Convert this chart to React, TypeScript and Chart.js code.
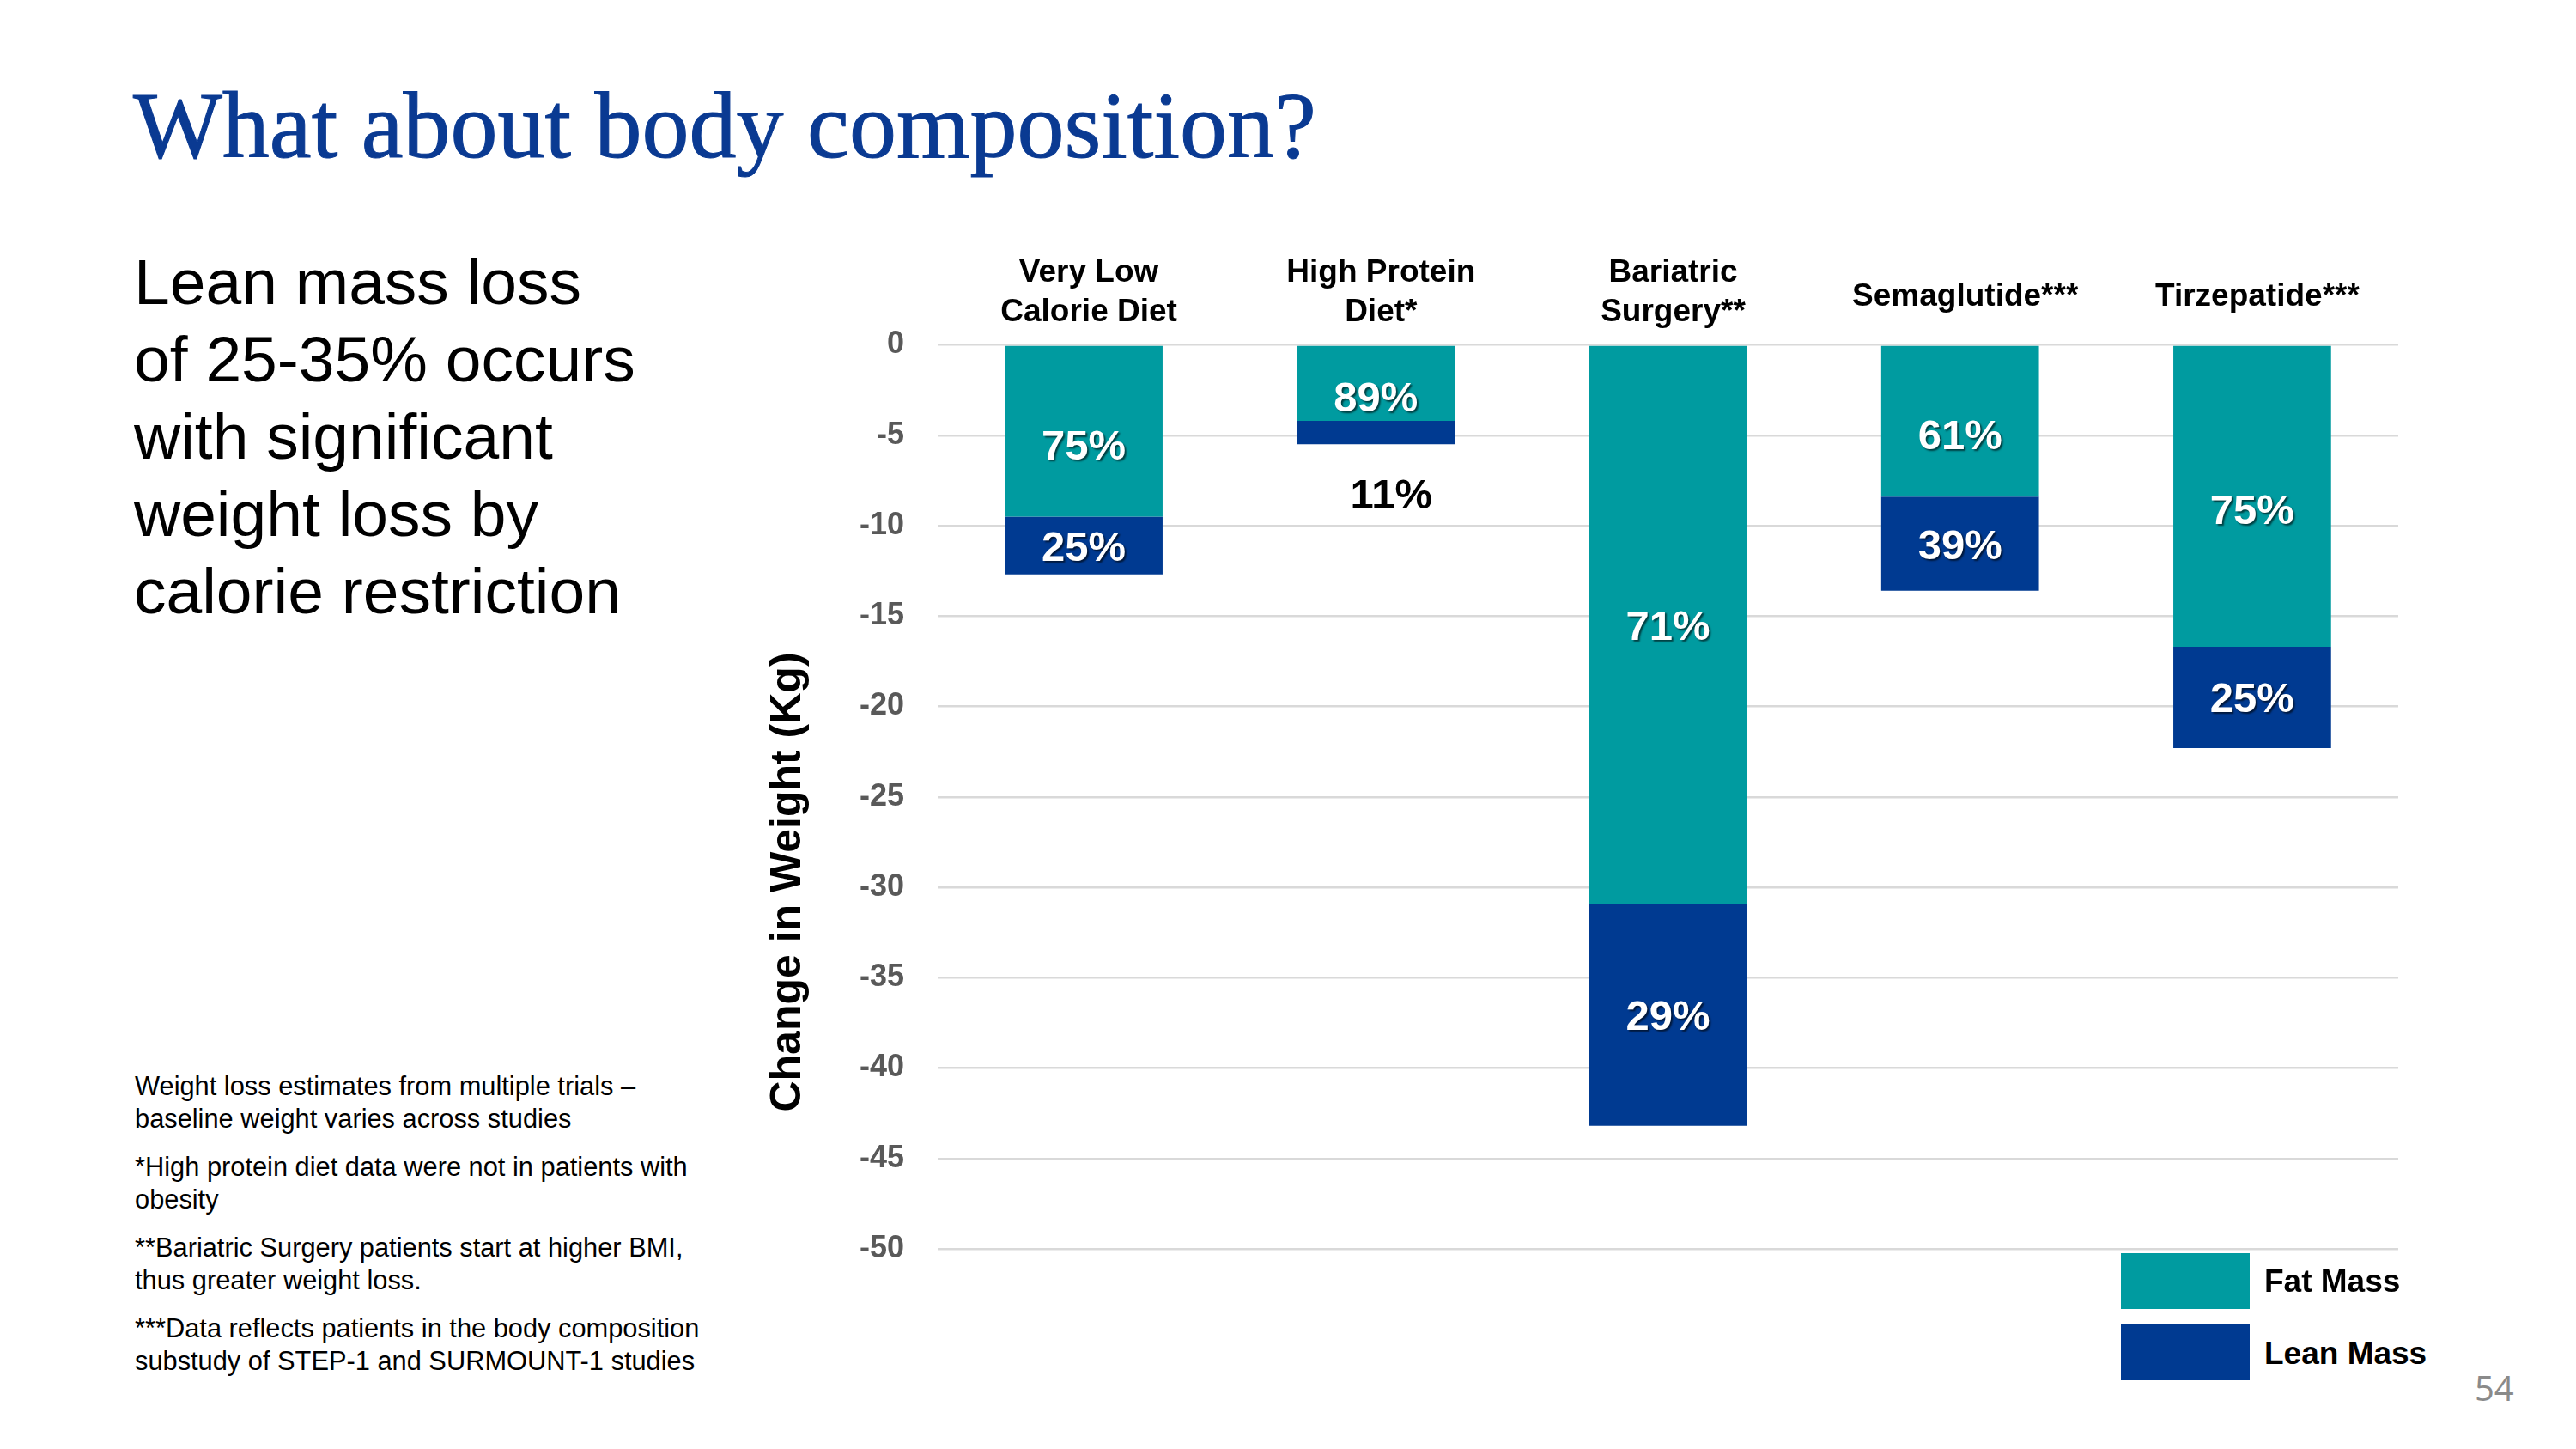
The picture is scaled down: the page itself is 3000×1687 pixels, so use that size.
import React, { useEffect, useRef } from "react";
import { Chart, registerables } from "chart.js";

Chart.register(...registerables);

// ---------- data ----------
const categories: (string | string[])[] = [
  ["Very Low", "Calorie Diet"],
  ["High Protein", "Diet*"],
  ["Bariatric", "Surgery**"],
  "Semaglutide***",
  "Tirzepatide***",
];
const seriesNames = ["Fat Mass", "Lean Mass"];
const fatMass = [-9.5, -4.2, -30.9, -8.4, -16.7];
const leanMass = [-3.2, -1.3, -12.3, -5.2, -5.6];
const fatPct = ["75%", "89%", "71%", "61%", "75%"];
const leanPct = ["25%", "11%", "29%", "39%", "25%"];
const yMin = -50;
const yMax = 0;
const yStep = 5;

const titleText = "What about body composition?";
const headlineLines = [
  "Lean mass loss",
  "of 25-35% occurs",
  "with significant",
  "weight loss by",
  "calorie restriction",
];
const footnotes = [
  ["Weight loss estimates from multiple trials –", "baseline weight varies across studies"],
  ["*High protein diet data were not in patients with", "obesity"],
  ["**Bariatric Surgery patients start at higher BMI,", "thus greater weight loss."],
  ["***Data reflects patients in the body composition", "substudy of STEP-1 and SURMOUNT-1 studies"],
];
const yTitle = "Change in Weight (Kg)";
const pageNumber = "54";

// ---------- styles ----------
const TEAL = "#009BA0";
const NAVY = "#003A91";
const TITLE_BLUE = "#0A3A92";
const SANS = "'Liberation Sans', Arial, sans-serif";

const segLabelPlugin = {
  id: "segLabels",
  afterDatasetsDraw(chart: any) {
    const ctx = chart.ctx as CanvasRenderingContext2D;
    chart.data.datasets.forEach((_ds: any, di: number) => {
      const meta = chart.getDatasetMeta(di);
      const texts = di === 0 ? fatPct : leanPct;
      meta.data.forEach((bar: any, i: number) => {
        const p = bar.getProps(["x", "y", "base"], true);
        const top = Math.min(p.y, p.base);
        const bottom = Math.max(p.y, p.base);
        const h = bottom - top;
        ctx.save();
        ctx.font = `bold 49px ${SANS}`;
        ctx.textAlign = "center";
        ctx.textBaseline = "middle";
        if (h < 50) {
          ctx.fillStyle = "#000000";
          ctx.fillText(texts[i], p.x + 18, bottom + 61);
        } else {
          ctx.shadowColor = "rgba(0,0,0,0.6)";
          ctx.shadowOffsetX = 2;
          ctx.shadowOffsetY = 2;
          ctx.shadowBlur = 2;
          ctx.fillStyle = "#FFFFFF";
          const shift = di === 0 ? (h > 400 ? 4 : 19) : 4;
          ctx.fillText(texts[i], p.x, (top + bottom) / 2 + shift);
        }
        ctx.restore();
      });
    });
  },
};

function ChartBox() {
  const ref = useRef<HTMLCanvasElement | null>(null);
  useEffect(() => {
    if (!ref.current) return;
    const chart = new Chart(ref.current, {
      type: "bar",
      data: {
        labels: categories as any,
        datasets: [
          {
            label: seriesNames[0],
            data: fatMass,
            backgroundColor: TEAL,
            borderWidth: 0,
            categoryPercentage: 1,
            barPercentage: 0.54,
          },
          {
            label: seriesNames[1],
            data: leanMass,
            backgroundColor: NAVY,
            borderWidth: 0,
            categoryPercentage: 1,
            barPercentage: 0.54,
          },
        ],
      },
      options: {
        animation: false,
        responsive: false,
        maintainAspectRatio: false,
        devicePixelRatio: 1,
        layout: { padding: { left: 0, top: 0, right: 47, bottom: 36 } },
        plugins: {
          legend: { display: false },
          tooltip: { enabled: false },
          title: { display: false },
        },
        scales: {
          x: {
            position: "top",
            stacked: true,
            offset: true,
            grid: { display: false, drawTicks: false },
            border: { display: false },
            ticks: {
              color: "#000000",
              padding: 15,
              maxRotation: 0,
              minRotation: 0,
              autoSkip: false,
              labelOffset: 6,
              font: (c: any) => {
                const lab = categories[c.index];
                return {
                  family: SANS,
                  size: 37,
                  weight: "bold",
                  lineHeight: Array.isArray(lab) ? "46px" : "82px",
                } as any;
              },
            },
            afterFit: (s: any) => {
              s.height = 151.5;
              s.paddingLeft = 0;
              s.paddingRight = 0;
            },
          },
          y: {
            stacked: true,
            min: yMin,
            max: yMax,
            grid: { color: "#D9D9D9", lineWidth: 2.5, drawTicks: false },
            border: { display: false },
            ticks: {
              stepSize: yStep,
              color: "#595959",
              padding: 39,
              font: { family: SANS, size: 36, weight: "bold" },
            },
            afterFit: (s: any) => {
              s.width = 132;
              s.paddingTop = 0;
              s.paddingBottom = 0;
            },
          },
        },
      },
      plugins: [segLabelPlugin],
    });
    return () => chart.destroy();
  }, []);
  return (
    <canvas
      ref={ref}
      width={1880}
      height={1240}
      style={{ position: "absolute", left: 960, top: 250, width: 1880, height: 1240 }}
    />
  );
}

export default function App() {
  return (
    <div
      style={{
        position: "absolute",
        left: 0,
        top: 0,
        width: 3000,
        height: 1687,
        background: "#FFFFFF",
        overflow: "hidden",
      }}
    >
      <div
        style={{
          position: "absolute",
          left: 155,
          top: 91,
          fontFamily: "'Liberation Serif', 'Times New Roman', serif",
          fontSize: 110,
          lineHeight: "110px",
          color: TITLE_BLUE,
          whiteSpace: "nowrap",
          WebkitTextStroke: "1px " + TITLE_BLUE,
        }}
      >
        {titleText}
      </div>

      <div
        style={{
          position: "absolute",
          left: 156,
          top: 283,
          fontFamily: SANS,
          fontSize: 75,
          lineHeight: "90px",
          color: "#000000",
          whiteSpace: "nowrap",
        }}
      >
        {headlineLines.map((l, i) => (
          <div key={i}>{l}</div>
        ))}
      </div>

      <div
        style={{
          position: "absolute",
          left: 157,
          top: 1246,
          fontFamily: SANS,
          fontSize: 30.8,
          lineHeight: "37.5px",
          color: "#000000",
          whiteSpace: "nowrap",
        }}
      >
        {footnotes.map((p, i) => (
          <div key={i} style={{ marginBottom: 19 }}>
            {p.map((l, j) => (
              <div key={j}>{l}</div>
            ))}
          </div>
        ))}
      </div>

      <div
        style={{
          position: "absolute",
          left: 915,
          top: 1027,
          transform: "translate(-50%, -50%) rotate(-90deg)",
          fontFamily: SANS,
          fontWeight: "bold",
          fontSize: 50,
          lineHeight: "56px",
          color: "#000000",
          whiteSpace: "nowrap",
        }}
      >
        {yTitle}
      </div>

      <ChartBox />

      {seriesNames.map((name, i) => (
        <div key={name}>
          <div
            style={{
              position: "absolute",
              left: 2470,
              top: i === 0 ? 1459 : 1542,
              width: 150,
              height: 65,
              background: i === 0 ? TEAL : NAVY,
            }}
          />
          <div
            style={{
              position: "absolute",
              left: 2637,
              top: (i === 0 ? 1492 : 1576) - 22,
              height: 44,
              lineHeight: "44px",
              fontFamily: SANS,
              fontWeight: "bold",
              fontSize: 37,
              color: "#000000",
              whiteSpace: "nowrap",
            }}
          >
            {name}
          </div>
        </div>
      ))}

      <div
        style={{
          position: "absolute",
          left: 2882,
          top: 1592,
          fontFamily: "'Open Sans', 'Liberation Sans', sans-serif",
          fontSize: 40,
          lineHeight: "48px",
          color: "#8A8A8A",
        }}
      >
        {pageNumber}
      </div>
    </div>
  );
}
